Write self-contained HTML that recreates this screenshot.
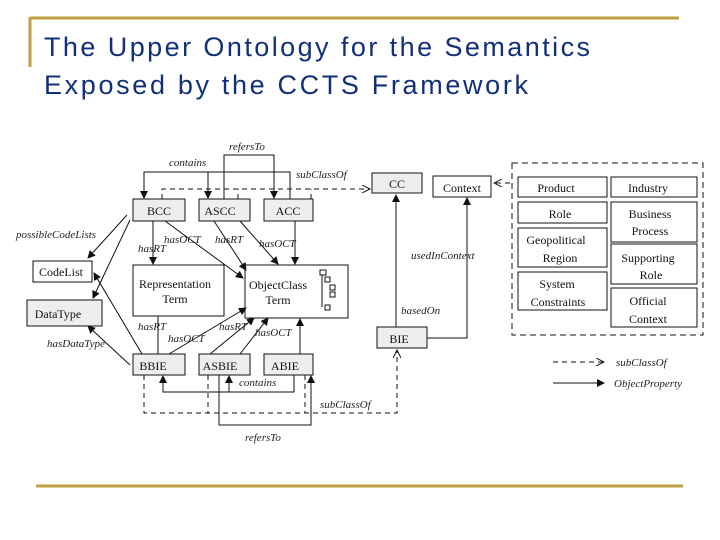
<!DOCTYPE html>
<html><head><meta charset="utf-8"><style>
html,body{margin:0;padding:0;background:#fff;}
svg{display:block;}
.t{font-family:"Liberation Serif",serif;font-size:12px;fill:#111;}
.i{font-family:"Liberation Serif",serif;font-size:11px;font-style:italic;fill:#222;}
</style></head><body>
<svg width="720" height="540" viewBox="0 0 720 540" xmlns="http://www.w3.org/2000/svg">
<defs>
<marker id="a" markerWidth="8" markerHeight="8" refX="7" refY="4" orient="auto" markerUnits="userSpaceOnUse"><path d="M0,0 L8,4 L0,8 z" fill="#111"/></marker>
<marker id="o" markerWidth="9" markerHeight="8" refX="8" refY="4" orient="auto" markerUnits="userSpaceOnUse"><path d="M0,0 L8,4 L0,8" fill="none" stroke="#111"/></marker>
</defs>
<line x1="30" y1="18" x2="679" y2="18" stroke="#c0a040" stroke-width="3"/>
<line x1="30" y1="17" x2="30" y2="67" stroke="#c0a040" stroke-width="3"/>
<line x1="36" y1="486" x2="683" y2="486" stroke="#c0a040" stroke-width="3"/>
<text x="44" y="56" font-family="Liberation Sans,sans-serif" font-size="27" fill="#12307a" textLength="546">The Upper Ontology for the Semantics</text>
<text x="44" y="94" font-family="Liberation Sans,sans-serif" font-size="27" fill="#12307a" textLength="484">Exposed by the CCTS Framework</text>

<g stroke="#111" stroke-width="1" fill="none">
<!-- boxes -->
<rect x="133" y="199" width="52" height="22" fill="#eee"/>
<rect x="199" y="199" width="51" height="22" fill="#eee"/>
<rect x="264" y="199" width="49" height="22" fill="#eee"/>
<rect x="33" y="261" width="59" height="21" fill="#fff"/>
<rect x="27" y="300" width="75" height="26" fill="#eee"/>
<rect x="133" y="265" width="91" height="51" fill="#fff"/>
<rect x="245" y="265" width="103" height="53" fill="#fff"/>
<rect x="133" y="354" width="52" height="21" fill="#eee"/>
<rect x="199" y="354" width="51" height="21" fill="#eee"/>
<rect x="264" y="354" width="49" height="21" fill="#eee"/>
<rect x="372" y="173" width="50" height="20" fill="#eee"/>
<rect x="433" y="176" width="58" height="21" fill="#fff"/>
<rect x="377" y="327" width="50" height="21" fill="#eee"/>
<rect x="512" y="163" width="191" height="172" stroke-dasharray="6,4"/>
<rect x="518" y="177" width="89" height="20"/>
<rect x="611" y="177" width="86" height="20"/>
<rect x="518" y="202" width="89" height="21"/>
<rect x="611" y="202" width="86" height="40"/>
<rect x="518" y="228" width="89" height="39"/>
<rect x="611" y="244" width="86" height="40"/>
<rect x="518" y="272" width="89" height="38"/>
<rect x="611" y="288" width="86" height="39"/>
<!-- small icon -->
<rect x="320" y="270" width="6" height="5"/><rect x="325" y="277" width="5" height="5"/><rect x="330" y="285" width="5" height="5"/><rect x="330" y="292" width="5" height="5"/><rect x="325" y="305" width="5" height="5"/>
<line x1="322" y1="275" x2="322" y2="307"/>
<!-- dashed subclass top -->
<path d="M162,199 V189 H370" stroke-dasharray="5,4" marker-end="url(#o)"/>
<path d="M238,199 V189 M311,199 V189" stroke-dasharray="5,4"/>
<path d="M510,183 H494" stroke-dasharray="5,4" marker-end="url(#o)"/>
<!-- contains top -->
<path d="M290,199 V172 H144 V198" marker-end="url(#a)"/>
<path d="M208,172 V198" marker-end="url(#a)"/>
<!-- refersTo top -->
<path d="M224,199 V155 H274 V198" marker-end="url(#a)"/>
<!-- BCC arrows -->
<path d="M153,221 V264" marker-end="url(#a)"/>
<path d="M165,221 L243,278" marker-end="url(#a)"/>
<path d="M127,215 L88,258" marker-end="url(#a)"/>
<path d="M130,220 L93,298" marker-end="url(#a)"/>
<path d="M214,221 L246,270" marker-end="url(#a)"/>
<path d="M240,221 L278,264" marker-end="url(#a)"/>
<path d="M295,221 V264" marker-end="url(#a)"/>
<!-- lower arrows -->
<path d="M158,354 V316"/>
<path d="M142,354 L94,273" marker-end="url(#a)"/>
<path d="M130,365 L88,326" marker-end="url(#a)"/>
<path d="M169,354 L246,308" marker-end="url(#a)"/>
<path d="M210,354 L254,318" marker-end="url(#a)"/>
<path d="M240,354 L268,318" marker-end="url(#a)"/>
<path d="M300,354 V319" marker-end="url(#a)"/>
<!-- contains bottom -->
<path d="M294,375 V392 H163 V376" marker-end="url(#a)"/>
<path d="M229,392 V376" marker-end="url(#a)"/>
<!-- refersTo bottom -->
<path d="M219,375 V425 H311 V376" marker-end="url(#a)"/>
<!-- dashed bottom -->
<path d="M144,375 V413 H397 V350" stroke-dasharray="5,4" marker-end="url(#o)"/>
<path d="M208,375 V413 M305,375 V413" stroke-dasharray="5,4"/>
<!-- BIE -->
<path d="M396,327 V195" marker-end="url(#a)"/>
<path d="M427,338 H467 V198" marker-end="url(#a)"/>
<!-- legend -->
<path d="M553,362 H604" stroke-dasharray="5,4" marker-end="url(#o)"/>
<path d="M553,383 H604" marker-end="url(#a)"/>
</g>

<g class="t" text-anchor="middle">
<text x="159" y="215">BCC</text><text x="220" y="215">ASCC</text><text x="288" y="215">ACC</text>
<text x="61" y="276" text-anchor="middle">CodeList</text>
<text x="58" y="318">DataType</text>
<text x="175" y="288">Representation</text><text x="175" y="303">Term</text>
<text x="278" y="289">ObjectClass</text><text x="278" y="304">Term</text>
<text x="153" y="370">BBIE</text><text x="220" y="370">ASBIE</text><text x="285" y="370">ABIE</text>
<text x="397" y="188">CC</text><text x="462" y="192">Context</text><text x="399" y="343">BIE</text>
<text x="556" y="192">Product</text><text x="648" y="192">Industry</text>
<text x="560" y="218">Role</text><text x="650" y="218">Business</text><text x="650" y="235">Process</text>
<text x="556" y="244">Geopolitical</text><text x="560" y="262">Region</text>
<text x="648" y="262">Supporting</text><text x="651" y="279">Role</text>
<text x="557" y="288">System</text><text x="558" y="306">Constraints</text>
<text x="648" y="305">Official</text><text x="648" y="323">Context</text>
</g>
<g class="i">
<text x="229" y="150">refersTo</text>
<text x="169" y="166">contains</text>
<text x="296" y="178">subClassOf</text>
<text x="16" y="238">possibleCodeLists</text>
<text x="138" y="252">hasRT</text>
<text x="164" y="243">hasOCT</text>
<text x="215" y="243">hasRT</text>
<text x="259" y="247">hasOCT</text>
<text x="411" y="259">usedInContext</text>
<text x="401" y="314">basedOn</text>
<text x="138" y="330">hasRT</text>
<text x="168" y="342">hasOCT</text>
<text x="219" y="330">hasRT</text>
<text x="255" y="336">hasOCT</text>
<text x="47" y="347">hasDataType</text>
<text x="239" y="386">contains</text>
<text x="320" y="408">subClassOf</text>
<text x="245" y="441">refersTo</text>
<text x="616" y="366">subClassOf</text>
<text x="614" y="387">ObjectProperty</text>
</g>
</svg>
</body></html>
